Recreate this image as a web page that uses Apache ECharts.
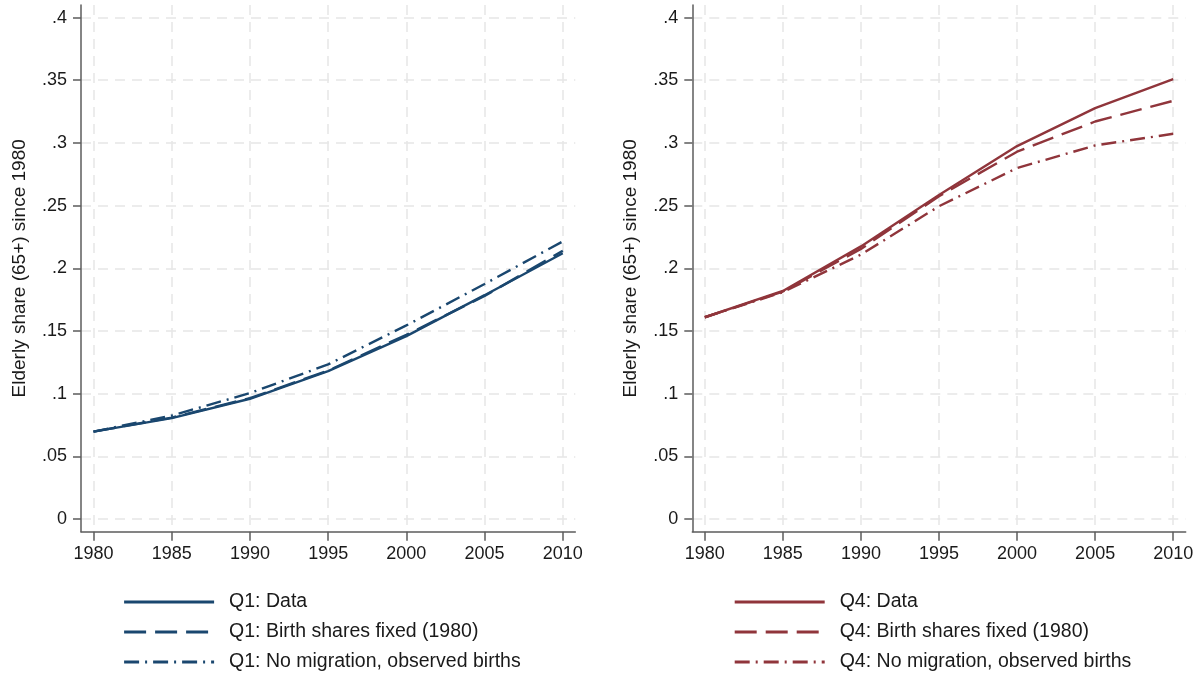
<!DOCTYPE html>
<html>
<head>
<meta charset="utf-8">
<title>Elderly share (65+) since 1980</title>
<script src="https://cdn.jsdelivr.net/npm/echarts@6/dist/echarts.min.js"></script>
<style>
  html, body { margin: 0; padding: 0; background: #ffffff; }
  #chart { width: 1200px; height: 673px; }
</style>
</head>
<body>
<div id="chart"></div>
<script>
// Years observed and axis ticks
const years = [1980, 1985, 1990, 1995, 2000, 2005, 2010];
const yearTicks = [1980, 1985, 1990, 1995, 2000, 2005, 2010];
const shareTicks = [0, 0.05, 0.1, 0.15, 0.2, 0.25, 0.3, 0.35, 0.4];
const shareTickLabels = ['0', '.05', '.1', '.15', '.2', '.25', '.3', '.35', '.4'];

// Q1 (left panel)
const q1Data        = [0.0698, 0.0806, 0.0960, 0.1180, 0.1460, 0.1786, 0.2120];
const q1BirthFixed  = [0.0698, 0.0810, 0.0965, 0.1185, 0.1470, 0.1780, 0.2140];
const q1NoMigration = [0.0698, 0.0826, 0.1005, 0.1234, 0.1545, 0.1875, 0.2215];

// Q4 (right panel)
const q4Data        = [0.1610, 0.1820, 0.2175, 0.2585, 0.2975, 0.3278, 0.3509];
const q4BirthFixed  = [0.1610, 0.1815, 0.2155, 0.2575, 0.2930, 0.3171, 0.3336];
const q4NoMigration = [0.1610, 0.1810, 0.2110, 0.2495, 0.2800, 0.2980, 0.3073];

const seriesNames = {
  q1: ['Q1: Data', 'Q1: Birth shares fixed (1980)', 'Q1: No migration, observed births'],
  q4: ['Q4: Data', 'Q4: Birth shares fixed (1980)', 'Q4: No migration, observed births']
};

const navy = '#1a476f';
const maroon = '#90353b';
const axisColor = '#5c5c5c';
const textColor = '#1a1a1a';
const gridColor = '#e6e6e6';
const fontFamily = '"Liberation Sans", Arial, sans-serif';

const dashLong = [22, 9];
const dashDot = [15, 6, 2, 6];

function pairs(ys) {
  return years.map((y, i) => [y, ys[i]]);
}

function xAxis(gridIndex) {
  return {
    type: 'value', gridIndex,
    min: 1979.2, max: 2010.8,
    axisLine: { show: true, onZero: false, lineStyle: { color: axisColor, width: 1.5 } },
    axisTick: { show: true, length: 9, customValues: yearTicks, lineStyle: { color: axisColor, width: 1.5 } },
    axisLabel: {
      customValues: yearTicks, margin: 13,
      color: textColor, fontSize: 18, fontFamily,
      formatter: v => String(Math.round(v))
    },
    splitLine: { show: true, lineStyle: { color: gridColor, width: 1.5, type: [10, 7] } }
  };
}

function yAxis(gridIndex) {
  return {
    type: 'value', gridIndex,
    min: -0.01, max: 0.41,
    name: 'Elderly share (65+) since 1980',
    nameLocation: 'middle', nameGap: 52, nameRotate: 90,
    nameTextStyle: { color: textColor, fontSize: 19, fontFamily },
    axisLine: { show: true, lineStyle: { color: axisColor, width: 1.5 } },
    axisTick: { show: true, length: 8, customValues: shareTicks, lineStyle: { color: axisColor, width: 1.5 } },
    axisLabel: {
      customValues: shareTicks, margin: 14,
      color: textColor, fontSize: 18, fontFamily,
      formatter: v => shareTickLabels[Math.round(v / 0.05)]
    },
    splitLine: { show: true, lineStyle: { color: gridColor, width: 1.5, type: [10, 7] } }
  };
}

function line(name, data, color, dash, axisIndex) {
  return {
    type: 'line', name,
    xAxisIndex: axisIndex, yAxisIndex: axisIndex,
    data: pairs(data),
    symbol: 'none', showSymbol: false,
    lineStyle: { color, width: 2.4, type: dash },
    itemStyle: { color },
    emphasis: { disabled: true },
    animation: false
  };
}

function legend(left, names) {
  return {
    orient: 'vertical', left, top: 592,
    padding: 0,
    data: names,
    itemWidth: 90, itemHeight: 20, itemGap: 10,
    selectedMode: false,
    itemStyle: { opacity: 0, borderWidth: 0 },
    lineStyle: { width: 2.8 },
    textStyle: { color: textColor, fontSize: 19.5, fontFamily, lineHeight: 20, padding: [0, 0, 0, 10] }
  };
}

const chart = echarts.init(document.getElementById('chart'), null, { renderer: 'canvas' });
chart.setOption({
  backgroundColor: '#ffffff',
  animation: false,
  grid: [
    { left: 81, top: 5, width: 494.3, height: 526.7 },
    { left: 692.3, top: 5, width: 493.4, height: 526.7 }
  ],
  xAxis: [xAxis(0), xAxis(1)],
  yAxis: [yAxis(0), yAxis(1)],
  legend: [legend(122.7, seriesNames.q1), legend(733.3, seriesNames.q4)],
  series: [
    line(seriesNames.q1[0], q1Data, navy, 'solid', 0),
    line(seriesNames.q1[1], q1BirthFixed, navy, dashLong, 0),
    line(seriesNames.q1[2], q1NoMigration, navy, dashDot, 0),
    line(seriesNames.q4[0], q4Data, maroon, 'solid', 1),
    line(seriesNames.q4[1], q4BirthFixed, maroon, dashLong, 1),
    line(seriesNames.q4[2], q4NoMigration, maroon, dashDot, 1)
  ]
});
</script>
</body>
</html>
